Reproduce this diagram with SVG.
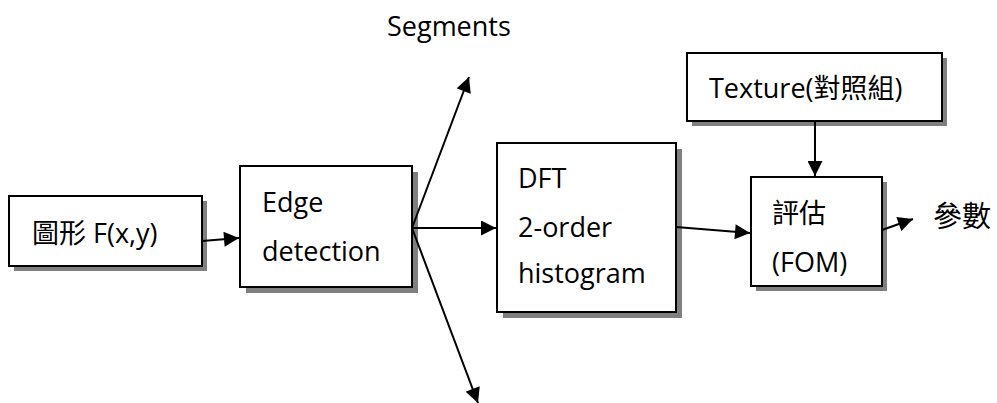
<svg xmlns="http://www.w3.org/2000/svg" width="997" height="403" viewBox="0 0 997 403">
<style>
.box{fill:#fff;stroke:#000;stroke-width:2}
.sh{fill:#808080}
.t{font-family:"Open Sans","Noto Sans CJK TC",sans-serif;font-size:27px;fill:#000}
.c{stroke:#000;stroke-width:2;fill:none;marker-end:url(#ah)}
</style>
<defs>
<marker id="ah" viewBox="0 0 10 10" refX="10" refY="5" markerWidth="8" markerHeight="7.5" markerUnits="strokeWidth" orient="auto">
<path d="M0,0L10,5L0,10z" fill="#000"/>
</marker>
</defs>
<rect width="997" height="403" fill="#fff"/>
<g id="n1">
<rect class="sh" x="14" y="201" width="193" height="70"/>
<rect class="box" x="9" y="196" width="193" height="70"/>
<text class="t" x="32" y="243">圖形 F(x,y)</text>
</g>
<g id="n2">
<rect class="sh" x="246" y="172" width="172" height="121"/>
<rect class="box" x="240" y="166" width="172" height="121"/>
<text class="t" x="262" y="212">Edge</text>
<text class="t" x="262" y="261">detection</text>
</g>
<g id="n3">
<rect class="sh" x="503" y="149" width="179" height="169"/>
<rect class="box" x="497" y="143" width="179" height="169"/>
<text class="t" x="518" y="188">DFT</text>
<text class="t" x="518" y="237">2-order</text>
<text class="t" x="518" y="283">histogram</text>
</g>
<g id="n4">
<rect class="sh" x="692" y="58" width="255" height="68"/>
<rect class="box" x="687" y="53" width="255" height="68"/>
<text class="t" x="709" y="98">Texture(對照組)</text>
</g>
<g id="n5">
<rect class="sh" x="756" y="182" width="131" height="109"/>
<rect class="box" x="751" y="177" width="131" height="109"/>
<text class="t" x="772" y="223">評估</text>
<text class="t" x="772" y="272">(FOM)</text>
</g>
<g id="labels">
<text class="t" x="387" y="36">Segments</text>
<text class="t" x="933" y="227" style="font-size:29px">參數</text>
</g>
<g id="connectors">
<line class="c" x1="202" y1="241" x2="239" y2="238"/>
<line class="c" x1="412" y1="228" x2="469" y2="77"/>
<line class="c" x1="412" y1="228" x2="496" y2="228"/>
<line class="c" x1="412" y1="228" x2="478" y2="403"/>
<line class="c" x1="676" y1="227" x2="750" y2="233"/>
<line class="c" x1="815" y1="121" x2="815" y2="176"/>
<line class="c" x1="882" y1="230" x2="913" y2="219"/>
</g>
</svg>
